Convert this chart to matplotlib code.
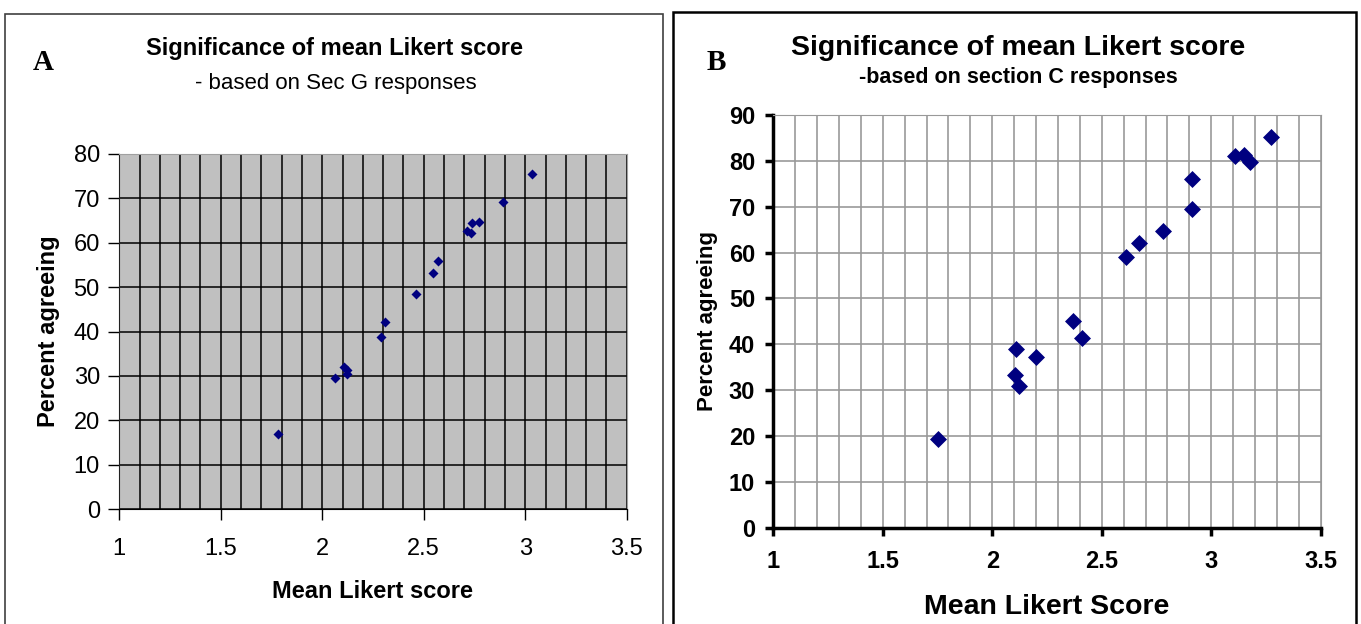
import matplotlib.pyplot as plt
from matplotlib.patches import Rectangle
from matplotlib.ticker import MultipleLocator

W, H = 1361, 624
DPI = 100

# Sec G responses: mean Likert score vs percent agreeing
sec_g_score = [3.035, 2.892, 2.772, 2.739, 2.715, 2.731, 2.569, 2.544,
               2.462, 2.311, 2.289, 2.109, 2.123, 2.120, 2.063, 1.783]
sec_g_pct = [75.4, 69.2, 64.7, 64.4, 62.7, 62.3, 56.0, 53.1,
             48.5, 42.1, 38.7, 32.1, 31.3, 30.4, 29.5, 16.9]

# section C responses
sec_c_score = [3.272, 3.107, 3.150, 3.176, 2.910, 2.910, 2.780, 2.668,
               2.613, 2.371, 2.412, 2.108, 2.202, 2.103, 2.122, 1.753]
sec_c_pct = [85.3, 81.1, 81.3, 79.8, 76.0, 69.6, 64.8, 62.0,
             59.0, 45.1, 41.4, 39.0, 37.2, 33.3, 30.8, 19.4]

x_ticks = [1, 1.5, 2, 2.5, 3, 3.5]
x_tick_labels = ["1", "1.5", "2", "2.5", "3", "3.5"]
y_ticks_a = list(range(0, 81, 10))
y_ticks_b = list(range(0, 91, 10))

NAVY = "#000080"
SANS = ["Liberation Sans", "DejaVu Sans"]
SERIF = ["Liberation Serif", "DejaVu Serif"]


def px_axes(fig, left, top, right, bottom):
    return fig.add_axes([left / W, 1 - bottom / H, (right - left) / W, (bottom - top) / H])


def fig_text(fig, x, y, s, **kw):
    fig.text(x / W, 1 - y / H, s, ha="center", va="center", **kw)


def frame(fig, left, top, right, bottom, **kw):
    fig.patches.append(Rectangle((left / W, 1 - bottom / H), (right - left) / W,
                                 (bottom - top) / H, transform=fig.transFigure,
                                 fill=False, **kw))


fig = plt.figure(figsize=(W / DPI, H / DPI), dpi=DPI)

# panel frames
frame(fig, 5, 14, 663, 660, edgecolor="#404040", linewidth=1.2)
frame(fig, 673, 12, 1356, 660, edgecolor="black", linewidth=1.8)

# --- panel A: grey plot area, black grid ---
ax = px_axes(fig, 119.3, 154, 626.7, 509)
ax.set_facecolor("#C0C0C0")
ax.scatter(sec_g_score, sec_g_pct, marker="D", s=26, color=NAVY, zorder=3, linewidths=0)
ax.set_xlim(1, 3.5)
ax.set_ylim(0, 80)
ax.set_xticks(x_ticks)
ax.set_xticklabels(x_tick_labels)
ax.set_yticks(y_ticks_a)
ax.xaxis.set_minor_locator(MultipleLocator(0.1))
ax.grid(True, which="major", axis="y", color="black", linewidth=1.1)
ax.grid(True, which="both", axis="x", color="black", linewidth=1.1)
ax.tick_params(axis="x", which="minor", length=0)
ax.tick_params(axis="both", which="major", direction="out", length=8, width=1,
               labelsize=17, pad=13)
ax.tick_params(axis="y", pad=6)
for lbl in ax.get_xticklabels() + ax.get_yticklabels():
    lbl.set_family(SANS)
ax.spines["top"].set_color("#A0A0A0")
ax.spines["right"].set_color("#A0A0A0")
ax.spines["left"].set_color("#202020")
ax.spines["bottom"].set_color("black")
ax.set_axisbelow(True)
ax.set_xlabel("Mean Likert score", fontsize=17, fontweight="bold", family=SANS, labelpad=14)
ax.set_ylabel("Percent agreeing", fontsize=17, fontweight="bold", family=SANS, labelpad=10)

fig_text(fig, 335, 48, "Significance of mean Likert score", fontsize=17, fontweight="bold", family=SANS)
fig_text(fig, 336, 83, "- based on Sec G responses", fontsize=16, family=SANS)
fig_text(fig, 43, 62, "A", fontsize=21, fontweight="bold", family=SERIF)

# --- panel B: white plot area, grey grid ---
bx = px_axes(fig, 773.3, 115, 1320.7, 527.7)
bx.set_facecolor("white")
bx.scatter(sec_c_score, sec_c_pct, marker="D", s=75, color=NAVY, zorder=3, linewidths=0)
bx.set_xlim(1, 3.5)
bx.set_ylim(0, 90)
bx.set_xticks(x_ticks)
bx.set_xticklabels(x_tick_labels)
bx.set_yticks(y_ticks_b)
bx.xaxis.set_minor_locator(MultipleLocator(0.1))
bx.grid(True, which="major", axis="y", color="#999999", linewidth=1.2)
bx.grid(True, which="both", axis="x", color="#999999", linewidth=1.2)
bx.tick_params(axis="x", which="minor", length=0)
bx.tick_params(axis="both", which="major", direction="out", length=6, width=2.5,
               labelsize=17, pad=10)
bx.tick_params(axis="y", pad=7)
for lbl in bx.get_xticklabels() + bx.get_yticklabels():
    lbl.set_family(SANS)
    lbl.set_fontweight("bold")
bx.spines["top"].set_color("#999999")
bx.spines["right"].set_color("#999999")
bx.spines["left"].set_linewidth(2.5)
bx.spines["bottom"].set_linewidth(2.5)
bx.set_axisbelow(True)
bx.set_xlabel("Mean Likert Score", fontsize=20.5, fontweight="bold", family=SANS, labelpad=15)
bx.set_ylabel("Percent agreeing", fontsize=16, fontweight="bold", family=SANS, labelpad=8)

fig_text(fig, 1018, 48, "Significance of mean Likert score", fontsize=20.5, fontweight="bold", family=SANS)
fig_text(fig, 1018, 78, "-based on section C responses", fontsize=15.5, fontweight="bold", family=SANS)
fig_text(fig, 716, 62, "B", fontsize=21, fontweight="bold", family=SERIF)

fig.savefig("out.png", dpi=DPI)
